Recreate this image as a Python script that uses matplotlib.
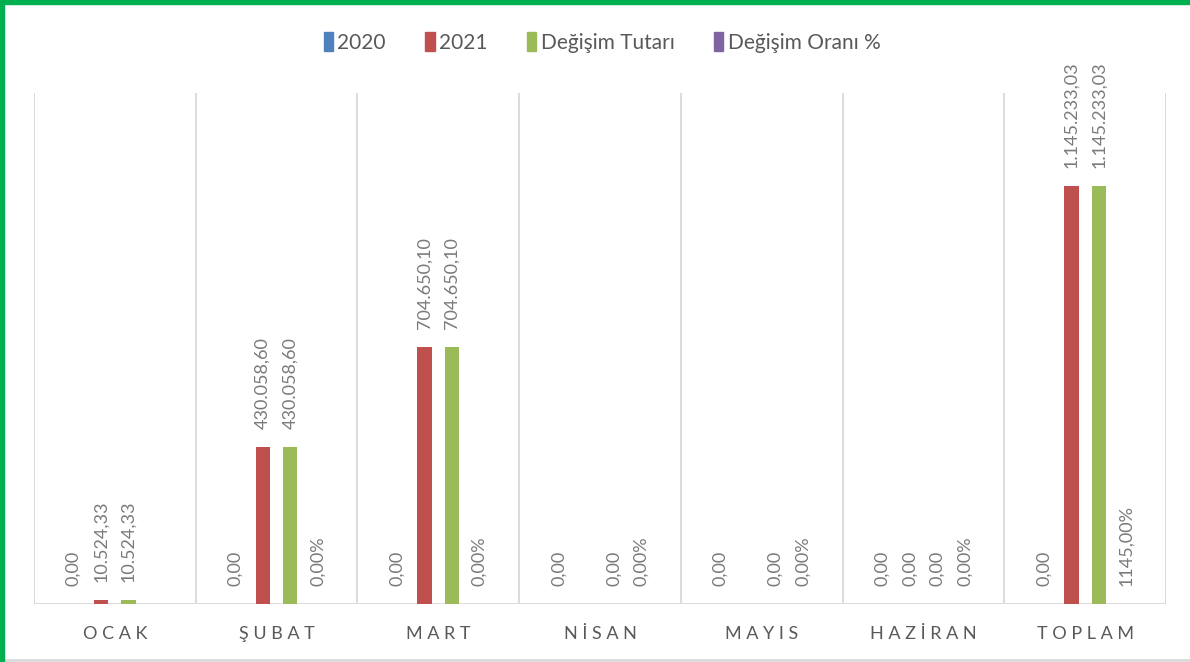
import numpy as np
import matplotlib.pyplot as plt
from matplotlib.patches import Rectangle
from matplotlib.lines import Line2D

# chart data
categories = ["OCAK", "ŞUBAT", "MART", "NİSAN", "MAYIS", "HAZİRAN", "TOPLAM"]
series_names = ["2020", "2021", "Değişim Tutarı", "Değişim Oranı %"]
values_2020 = [0, 0, 0, 0, 0, 0, 0]
values_2021 = [10524.33, 430058.60, 704650.10, np.nan, np.nan, 0, 1145233.03]
values_tutar = [10524.33, 430058.60, 704650.10, 0, 0, 0, 1145233.03]
values_oran = [np.nan, 0, 0, 0, 0, 0, 1145]

colors = ["#4f81bd", "#c0504d", "#9bbb59", "#8064a2"]
FONT = "Lato"


def tr_number(v):
    # turkish style: 1.145.233,03
    s = f"{v:,.2f}"
    return s.replace(",", "X").replace(".", ",").replace("X", ".")


def label_text(v, is_pct):
    if is_pct:
        return tr_number(v).replace(".", "") + "%"
    return tr_number(v)


fig = plt.figure(figsize=(11.9, 6.62), dpi=100)
ax = fig.add_axes([34 / 1190, 58 / 662, 1132 / 1190, 511 / 662])

x = np.arange(len(categories))
offsets = [-0.255, -0.085, 0.085, 0.255]
width = 0.088
all_series = [values_2020, values_2021, values_tutar, values_oran]

for i, vals in enumerate(all_series):
    vals = np.array(vals, dtype=float)
    heights = np.nan_to_num(vals)
    if i == 3:
        heights = np.zeros_like(heights)  # percent values are not on the money scale
    ax.bar(x + offsets[i], heights, width=width, color=colors[i], zorder=3)
    for xi, v, h in zip(x + offsets[i], vals, heights):
        if np.isnan(v):
            continue
        ax.annotate(label_text(v, i == 3), (xi, h), xytext=(0, 13),
                    textcoords="offset points", rotation=90, ha="center",
                    va="bottom", fontsize=13, color="#7a7a7a", family=FONT)

ax.set_xlim(-0.5, len(categories) - 0.5)
ax.set_ylim(0, 1400000)

# vertical separators between categories
for b in np.arange(-0.5, len(categories), 1):
    ax.axvline(b, color="#d9d9d9", lw=1.3, zorder=1)
ax.axhline(0, color="#d9d9d9", lw=1.3, zorder=2)

for s in ax.spines.values():
    s.set_visible(False)
ax.set_yticks([])
ax.set_xticks(x)
ax.set_xticklabels([" ".join(c) for c in categories], fontsize=13,
                   color="#595959", family=FONT)
ax.tick_params(axis="x", length=0, pad=16)

handles = [Rectangle((0, 0), 1, 1, color=c) for c in colors]
leg = fig.legend(handles, series_names, loc="center", bbox_to_anchor=(0.506, 0.936),
                 ncol=4, frameon=False, handlelength=0.45, handleheight=1.0,
                 handletextpad=0.2, columnspacing=1.9,
                 prop={"family": FONT, "size": 15})
for t in leg.get_texts():
    t.set_color("#595959")

# frame decoration
fig.patches.append(Rectangle((0, 0), 4 / 1190, 1, transform=fig.transFigure,
                             color="#00b050", zorder=5))
fig.patches.append(Rectangle((0, 1 - 4 / 662), 1, 4 / 662, transform=fig.transFigure,
                             color="#00b050", zorder=5))
fig.lines.append(Line2D([4 / 1190, 1], [2 / 662, 2 / 662], transform=fig.transFigure,
                        color="#d9d9d9", lw=2))

fig.savefig("out.png", dpi=100)
